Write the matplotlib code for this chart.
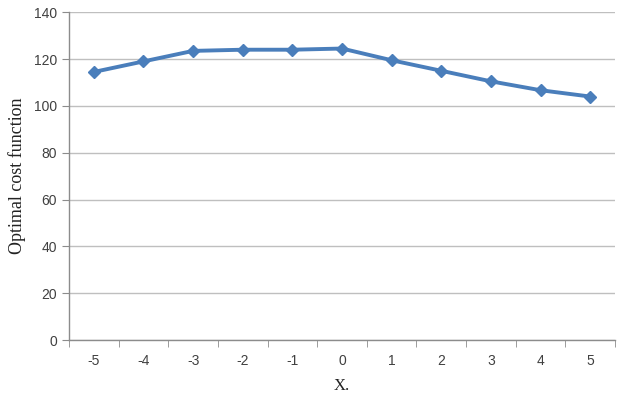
import matplotlib
matplotlib.use("Agg")
import matplotlib.pyplot as plt

# data
x_labels = ["-5", "-4", "-3", "-2", "-1", "0", "1", "2", "3", "4", "5"]
cost = [114.5, 119.0, 123.5, 124.0, 124.0, 124.5, 119.5, 115.0, 110.5, 106.7, 104.0]
y_ticks = [0, 20, 40, 60, 80, 100, 120, 140]

fig = plt.figure(figsize=(6.19, 3.95), dpi=100)
ax = fig.add_axes([0.1115, 0.139, 0.882, 0.830])

pos = list(range(len(x_labels)))
ax.plot(pos, cost, color="#4a7ebb", linewidth=2.8, marker="D", markersize=6.5,
        markerfacecolor="#4a7ebb", markeredgecolor="#4a7ebb", zorder=3)

ax.set_xlim(-0.5, len(x_labels) - 0.5)
ax.set_ylim(0, 140)
ax.set_yticks(y_ticks)
ax.set_xticks(pos)
ax.set_xticklabels(x_labels)
ax.set_xticks([p - 0.5 for p in pos] + [len(pos) - 0.5], minor=True)

ax.grid(axis="y", color="#bfbfbf", linewidth=1.0)
ax.set_axisbelow(True)
for s in ["top", "right"]:
    ax.spines[s].set_visible(False)
for s in ["left", "bottom"]:
    ax.spines[s].set_color("#8c8c8c")
    ax.spines[s].set_linewidth(1.0)

ax.tick_params(axis="x", which="major", length=0, pad=10,
               labelsize=10, labelcolor="#404040")
ax.tick_params(axis="x", which="minor", length=5, direction="out", color="#8c8c8c")
ax.tick_params(axis="y", length=5, direction="out", color="#8c8c8c",
               labelsize=10, labelcolor="#404040")
for lab in ax.get_xticklabels() + ax.get_yticklabels():
    lab.set_family("Liberation Sans")

ax.set_ylabel("Optimal cost function", family="Liberation Serif", fontsize=13,
              color="#222222", labelpad=6)
fig.text(0.552, 0.003, "X.", family="Liberation Serif", fontsize=12,
         color="#222222", ha="center", va="bottom")

plt.savefig("out.png", dpi=100)
